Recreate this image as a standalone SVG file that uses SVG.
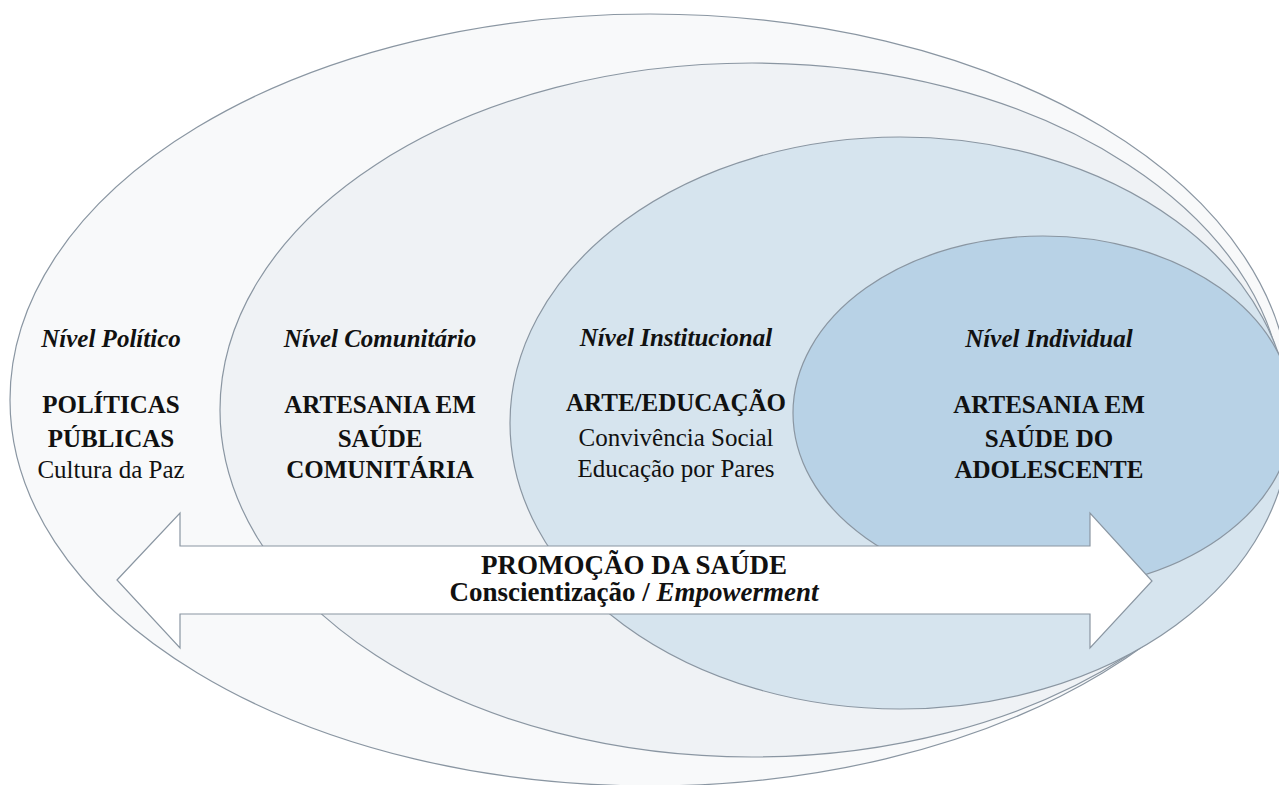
<svg xmlns="http://www.w3.org/2000/svg" width="1279" height="785" viewBox="0 0 1279 785">
<style>
.ring{stroke:#8a96a2;stroke-width:1.2}
.t{font-family:"Liberation Serif","Times New Roman",serif;fill:#111;text-anchor:middle}
.lvl{font-size:25px;font-style:italic;font-weight:bold}
.main{font-size:25px;font-weight:bold}
.sub{font-size:25px}
.big{font-size:27px;font-weight:bold}
</style>
<rect width="1279" height="785" fill="#ffffff"/>
<g id="nivel-politico">
<ellipse class="ring" cx="650" cy="400" rx="640" ry="386" fill="#f8f9fa"/>
<text class="t lvl" x="111" y="347">Nível Político</text>
<text class="t main" x="111" y="413">POLÍTICAS</text>
<text class="t main" x="111" y="447">PÚBLICAS</text>
<text class="t sub" x="111" y="478">Cultura da Paz</text>
</g>
<g id="nivel-comunitario">
<ellipse class="ring" cx="752" cy="410" rx="532" ry="347" fill="#eff2f5"/>
<text class="t lvl" x="380" y="347">Nível Comunitário</text>
<text class="t main" x="380" y="413">ARTESANIA EM</text>
<text class="t main" x="380" y="447">SAÚDE</text>
<text class="t main" x="380" y="478">COMUNITÁRIA</text>
</g>
<g id="nivel-institucional">
<ellipse class="ring" cx="900" cy="423" rx="390" ry="286" fill="#d6e4ee"/>
<text class="t lvl" x="676" y="346">Nível Institucional</text>
<text class="t main" x="676" y="411">ARTE/EDUCAÇÃO</text>
<text class="t sub" x="676" y="446">Convivência Social</text>
<text class="t sub" x="676" y="477">Educação por Pares</text>
</g>
<g id="nivel-individual">
<ellipse class="ring" cx="1043" cy="413" rx="250" ry="177" fill="#b8d2e6"/>
<text class="t lvl" x="1049" y="347">Nível Individual</text>
<text class="t main" x="1049" y="413">ARTESANIA EM</text>
<text class="t main" x="1049" y="447">SAÚDE DO</text>
<text class="t main" x="1049" y="478">ADOLESCENTE</text>
</g>
<g id="connectors">
<g id="promocao-saude">
<polygon points="117,580 180,513 180,546 1090,546 1090,513 1152,581 1090,648 1090,614 180,614 180,648" fill="#ffffff" stroke="#8a96a2" stroke-width="1.2"/>
<text class="t big" x="634" y="574">PROMOÇÃO DA SAÚDE</text>
<text class="t big" x="634" y="601">Conscientização / <tspan font-style="italic">Empowerment</tspan></text>
</g>
</g>
</svg>
